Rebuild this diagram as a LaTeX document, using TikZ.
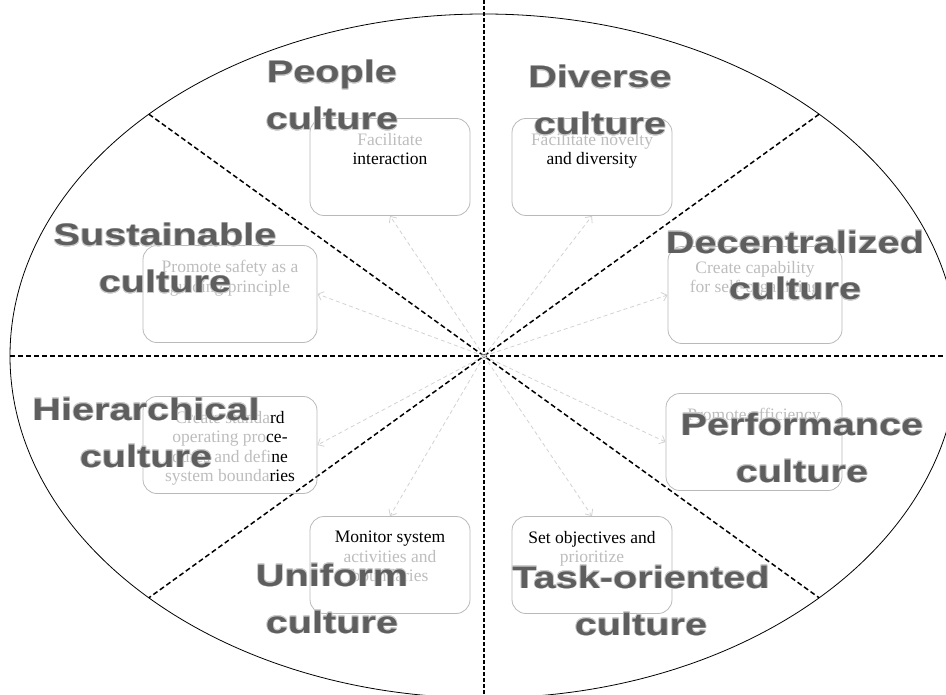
\documentclass[tikz,border=0pt]{standalone}
\usepackage{fontspec}
\usepackage[copies]{contour}
\usetikzlibrary{shapes.geometric,positioning,arrows.meta}

\setmainfont{Liberation Serif}
\newfontfamily\labelfont[FakeStretch=1.28]{Liberation Sans}

\definecolor{faded}{gray}{0.74}
\definecolor{labelgray}{gray}{0.37}
\definecolor{halogray}{gray}{0.8}
\contourlength{0.7pt}
\contournumber{16}
\newcommand{\halo}[1]{\contour{halogray}{#1}}

\begin{document}
\begin{tikzpicture}[x=1pt,y=-1pt,
  divider/.style={line width=1.5pt, dash pattern=on 5pt off 3pt},
  spine/.style={line width=2.3pt, dash pattern=on 4pt off 2pt},
  link/.style={draw=gray!35, line width=0.8pt, dash pattern=on 4pt off 3pt,
    -{Straight Barb[length=5pt,width=9pt]}},
  valuebox/.style={draw=gray!55, line width=0.8pt, rounded corners=14pt,
    inner sep=0pt, minimum width=#1, minimum height=97pt},
  valuebox/.default=160pt,
  note/.style={inner sep=0pt, align=center, font=\fontsize{17.5}{19.5}\selectfont},
  culture/.style={inner sep=0pt, align=center, anchor=base, text=labelgray,
    font=\labelfont\bfseries\fontsize{31}{47}\selectfont}]
  \useasboundingbox (0,0) rectangle (946,695);

  % the oval and its eight sectors
  \node[draw, ellipse, line width=0.8pt, inner sep=0pt, outer sep=0pt,
    minimum width=948pt, minimum height=684pt] (oval) at (484,356) {};
  \coordinate (hub) at (oval.center);
  \coordinate (top) at (484,0);
  \coordinate (bottom) at (484,695);
  \draw[divider] (oval.west) -- (oval.east);
  \draw[divider] (oval.north west) -- (oval.south east);
  \draw[divider] (oval.north east) -- (oval.south west);
  \draw[spine] (top) -- (bottom);

  % value boxes
  \node[valuebox] (peopleBox) at (390,167) {};
  \node[valuebox] (diverseBox) at (592,167) {};
  \node[valuebox=174pt] (sustainBox) at (230,294) {};
  \node[valuebox=174pt] (decentBox) at (755,295) {};
  \node[valuebox=174pt] (hierBox) at (230,445) {};
  \node[valuebox=176pt] (perfBox) at (754,442) {};
  \node[valuebox] (uniformBox) at (390,565) {};
  \node[valuebox] (taskBox) at (592,565) {};

  \draw[link] (hub) -- (peopleBox.south);
  \draw[link] (hub) -- (diverseBox.south);
  \draw[link] (hub) -- (sustainBox.east);
  \draw[link] (hub) -- (decentBox.west);
  \draw[link] (hub) -- (hierBox.east);
  \draw[link] (hub) -- (perfBox.west);
  \draw[link] (hub) -- (uniformBox.north);
  \draw[link] (hub) -- (taskBox.north);

  \node[note, below=15pt of peopleBox.north] (peopleNote)
    {\textcolor{faded}{Facilitate}\\interaction};
  \node[note, below=15pt of diverseBox.north] (diverseNote)
    {\textcolor{faded}{Facilitate novelty}\\and diversity};
  \node[note, text=faded, below=15pt of sustainBox.north] (sustainNote)
    {Promote safety as a\\guiding principle};
  \node[note, text=faded, below=15pt of decentBox.north] (decentNote)
    {Create capability\\for self-organizing};
  \node[note, below=15pt of hierBox.north] (hierNote)
    {\textcolor{faded}{Create standa}rd\\\textcolor{faded}{operating pro}ce-\\
     \textcolor{faded}{dures and defi}ne\\\textcolor{faded}{system bounda}ries};
  \node[note, text=faded, below=15pt of perfBox.north] (perfNote)
    {Promote efficiency};
  \node[note, below=15pt of uniformBox.north] (uniformNote)
    {Monitor system\\\textcolor{faded}{activities and}\\\textcolor{faded}{boundaries}};
  \node[note, below=15pt of taskBox.north] (taskNote)
    {Set objectives and\\\textcolor{faded}{prioritize}};

  % culture names, set over the boxes (base = second line)
  \node[culture] (people) at (332,130) {\halo{People}\\\halo{culture}};
  \node[culture] (diverse) at (600,135) {\halo{Diverse}\\\halo{culture}};
  \node[culture] (sustainable) at (165,293) {\halo{Sustainable}\\\halo{culture}};
  \node[culture] (decentralized) at (795,300) {\halo{Decentralized}\\\halo{culture}};
  \node[culture] (hierarchical) at (146,467) {\halo{Hierarchical}\\\halo{culture}};
  \node[culture] (performance) at (802,482) {\halo{Performance}\\\halo{culture}};
  \node[culture] (uniform) at (332,633) {\halo{Uniform}\\\halo{culture}};
  \node[culture] (task) at (641,635) {\halo{Task-oriented}\\\halo{culture}};
\end{tikzpicture}
\end{document}
